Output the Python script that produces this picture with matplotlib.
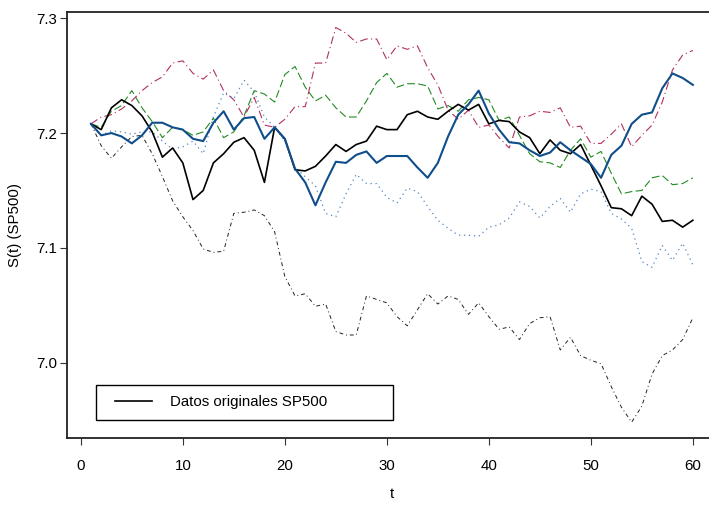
import numpy as np
import matplotlib
matplotlib.use("Agg")
import matplotlib.pyplot as plt
from matplotlib.patches import Rectangle

plt.rcParams["font.family"] = ["Liberation Sans", "DejaVu Sans"]
plt.rcParams["font.size"] = 10.8

t = np.arange(1, 61)

# serie original
sp500 = [7.208, 7.203, 7.222, 7.229, 7.224, 7.215, 7.201, 7.179, 7.187, 7.174,
         7.142, 7.150, 7.174, 7.182, 7.192, 7.196, 7.185, 7.157, 7.205, 7.195,
         7.168, 7.167, 7.171, 7.180, 7.190, 7.184, 7.190, 7.193, 7.206, 7.203,
         7.203, 7.216, 7.219, 7.214, 7.212, 7.219, 7.225, 7.220, 7.225, 7.208,
         7.211, 7.210, 7.201, 7.196, 7.182, 7.194, 7.185, 7.182, 7.190, 7.172,
         7.154, 7.135, 7.134, 7.128, 7.145, 7.138, 7.123, 7.124, 7.118, 7.124]

# simulaciones
sim_azul = [7.208, 7.198, 7.200, 7.197, 7.191, 7.198, 7.209, 7.209, 7.205, 7.203,
            7.195, 7.193, 7.209, 7.219, 7.203, 7.213, 7.214, 7.195, 7.205, 7.195,
            7.169, 7.157, 7.137, 7.157, 7.175, 7.174, 7.181, 7.184, 7.174, 7.180,
            7.180, 7.180, 7.170, 7.161, 7.174, 7.197, 7.216, 7.225, 7.237, 7.217,
            7.203, 7.192, 7.191, 7.185, 7.180, 7.183, 7.192, 7.185, 7.179, 7.173,
            7.161, 7.181, 7.189, 7.208, 7.216, 7.218, 7.239, 7.252, 7.248, 7.242]

sim_verde = [7.208, 7.205, 7.219, 7.224, 7.237, 7.222, 7.210, 7.196, 7.205, 7.203,
             7.198, 7.201, 7.213, 7.196, 7.201, 7.215, 7.237, 7.234, 7.227, 7.251,
             7.258, 7.240, 7.228, 7.233, 7.222, 7.214, 7.214, 7.228, 7.244, 7.252,
             7.240, 7.243, 7.243, 7.241, 7.221, 7.224, 7.219, 7.229, 7.231, 7.229,
             7.211, 7.214, 7.198, 7.182, 7.175, 7.174, 7.170, 7.185, 7.195, 7.179,
             7.184, 7.165, 7.147, 7.149, 7.150, 7.161, 7.163, 7.155, 7.156, 7.161]

sim_granate = [7.208, 7.214, 7.216, 7.221, 7.228, 7.237, 7.244, 7.249, 7.261, 7.263,
               7.252, 7.247, 7.255, 7.237, 7.229, 7.214, 7.231, 7.207, 7.205, 7.212,
               7.223, 7.223, 7.261, 7.261, 7.292, 7.287, 7.279, 7.282, 7.282, 7.264,
               7.276, 7.273, 7.276, 7.257, 7.242, 7.220, 7.212, 7.220, 7.205, 7.207,
               7.196, 7.187, 7.214, 7.215, 7.219, 7.218, 7.222, 7.205, 7.206, 7.191,
               7.191, 7.199, 7.208, 7.188, 7.198, 7.207, 7.227, 7.255, 7.268, 7.272]

sim_celeste = [7.208, 7.198, 7.202, 7.201, 7.199, 7.201, 7.201, 7.193, 7.186, 7.188,
               7.193, 7.182, 7.214, 7.235, 7.230, 7.246, 7.236, 7.214, 7.205, 7.193,
               7.170, 7.162, 7.154, 7.130, 7.127, 7.147, 7.164, 7.156, 7.156, 7.144,
               7.139, 7.152, 7.149, 7.136, 7.124, 7.117, 7.111, 7.111, 7.110, 7.118,
               7.120, 7.126, 7.140, 7.136, 7.126, 7.136, 7.143, 7.131, 7.147, 7.151,
               7.149, 7.130, 7.125, 7.117, 7.088, 7.083, 7.102, 7.089, 7.104, 7.085]

sim_gris = [7.208, 7.189, 7.178, 7.188, 7.197, 7.198, 7.182, 7.162, 7.141, 7.127,
            7.115, 7.099, 7.096, 7.097, 7.130, 7.131, 7.133, 7.128, 7.114, 7.075,
            7.058, 7.060, 7.049, 7.051, 7.027, 7.024, 7.024, 7.058, 7.055, 7.052,
            7.040, 7.032, 7.046, 7.060, 7.051, 7.058, 7.055, 7.042, 7.052, 7.040,
            7.029, 7.031, 7.020, 7.034, 7.039, 7.040, 7.011, 7.022, 7.006, 7.002,
            6.999, 6.979, 6.961, 6.948, 6.962, 6.990, 7.006, 7.011, 7.020, 7.039]

fig = plt.figure(figsize=(7.09, 5.05), dpi=100)
ax = fig.add_axes([0.0944, 0.1327, 0.9168, 0.8441])

ax.plot(t, sp500, color="black", lw=1.2, label="Datos originales SP500", zorder=3)
ax.plot(t, sim_azul, color="#104E8B", lw=1.5, zorder=3)
ax.plot(t, sim_verde, color="#228B22", lw=0.8, ls=(0, (7, 3)), zorder=2)
ax.plot(t, sim_granate, color="#B03060", lw=0.8, ls=(0, (7, 3, 1, 3)), zorder=2)
ax.plot(t, sim_celeste, color="#4F86C6", lw=0.9, ls=(0, (1, 3)), zorder=2)
ax.plot(t, sim_gris, color="#222222", lw=0.7, ls=(0, (4, 3, 1, 3)), zorder=2)

# rango como en R (4% extra)
todos = np.concatenate([sp500, sim_azul, sim_verde, sim_granate, sim_celeste, sim_gris])
lo, hi = todos.min(), todos.max()
ax.set_ylim(lo - 0.04 * (hi - lo), hi + 0.04 * (hi - lo))
ax.set_xlim(1 - 0.04 * 59, 60 + 0.04 * 59)

ax.set_xticks([0, 10, 20, 30, 40, 50, 60])
ax.set_yticks([7.0, 7.1, 7.2, 7.3])
ax.set_yticklabels(["7.0", "7.1", "7.2", "7.3"])
ax.tick_params(direction="out", length=5, width=0.8, color="#333333")
ax.tick_params(axis="x", pad=10)
ax.tick_params(axis="y", pad=2)
for s in ax.spines.values():
    s.set_linewidth(1.3)
    s.set_color("#222222")

ax.set_xlabel("t", labelpad=10)
ax.set_ylabel("S(t) (SP500)", labelpad=10)

# caja de la leyenda
ax.add_patch(Rectangle((0.0448, 0.0422), 0.457, 0.082, transform=ax.transAxes,
                       facecolor="white", edgecolor="black", lw=1.0, zorder=5))
ax.legend(loc="center left", bbox_to_anchor=(0.074, 0.0833), frameon=False,
          borderpad=0, borderaxespad=0, handlelength=2.47, handletextpad=1.2
          ).set_zorder(6)

fig.savefig("out.png", dpi=100)
